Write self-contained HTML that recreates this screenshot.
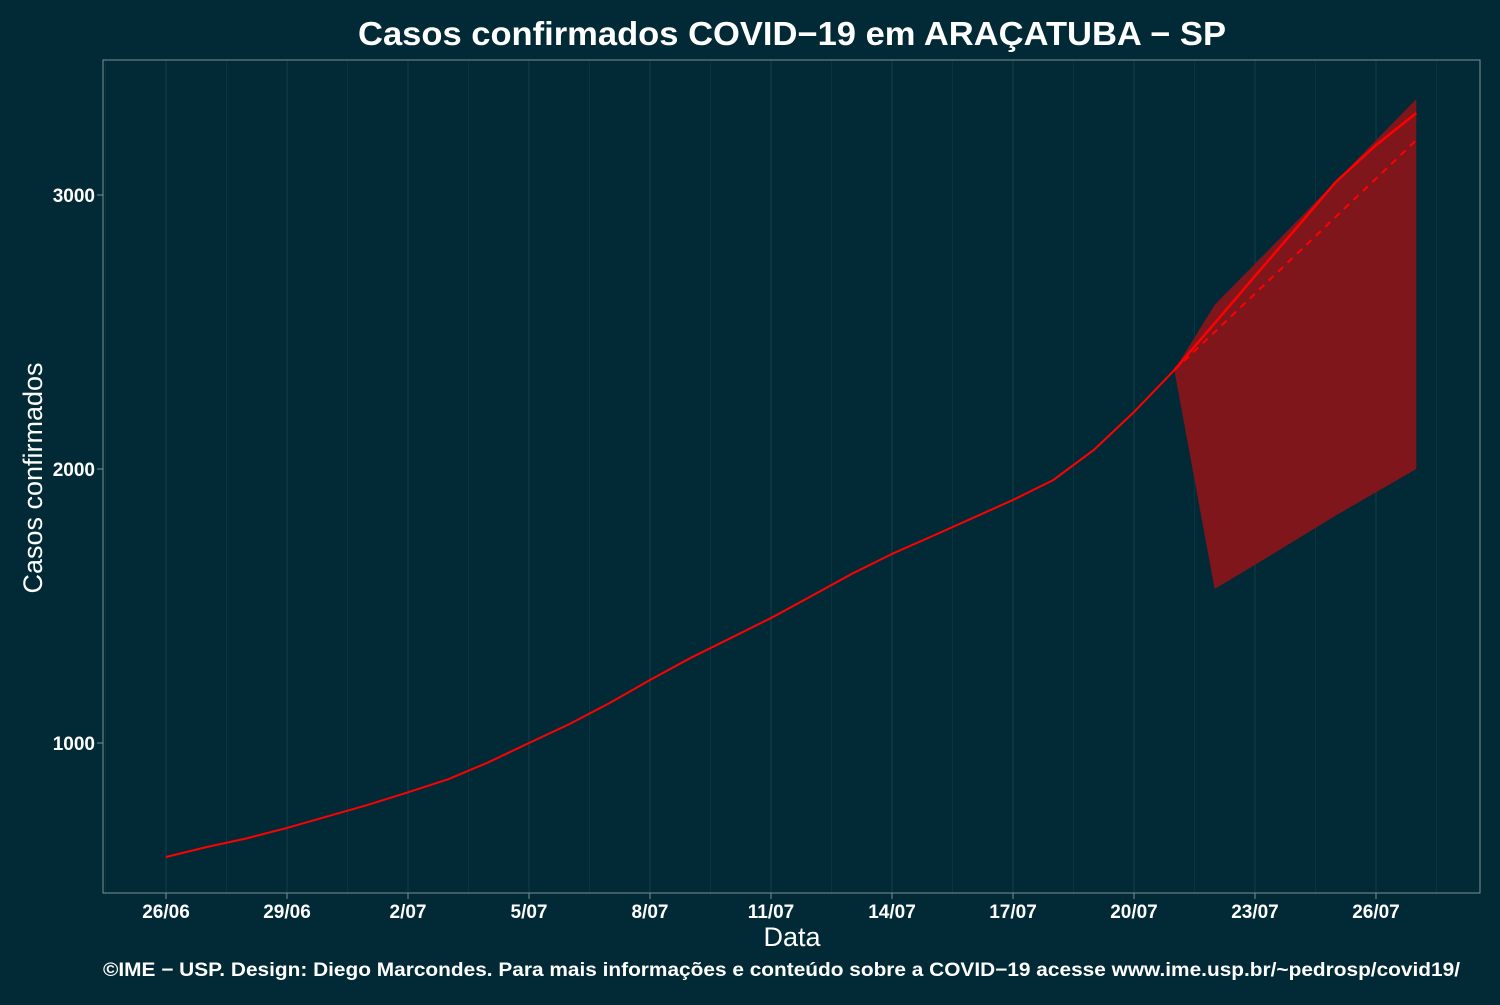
<!DOCTYPE html>
<html><head><meta charset="utf-8"><style>
body{margin:0;background:#012a36;}
svg text{font-family:"Liberation Sans",sans-serif;fill:#fff;}
</style></head><body>
<svg id="chart" width="1500" height="1000">
<rect width="1500" height="1000" fill="#012a36"/>
<text x="358" y="45" font-size="33" font-weight="bold" textLength="868" lengthAdjust="spacingAndGlyphs">Casos confirmados COVID−19 em ARAÇATUBA − SP</text>
<g id="grid"></g>
<g id="marks"></g>
<rect x="103" y="60" width="1377" height="833" fill="none" stroke="#7f8f93" stroke-width="1"/>
<g id="axes"></g>
<text x="792" y="946" font-size="27" text-anchor="middle">Data</text>
<text transform="translate(42,478) rotate(-90)" font-size="27" text-anchor="middle">Casos confirmados</text>
<text x="103" y="976" font-size="19" font-weight="bold" textLength="1357" lengthAdjust="spacingAndGlyphs">©IME − USP. Design: Diego Marcondes. Para mais informações e conteúdo sobre a COVID−19 acesse www.ime.usp.br/~pedrosp/covid19/</text>
</svg>
<script>
const observed = [584,620,652,690,732,774,820,868,930,1000,1069,1146,1230,1310,1383,1456,1536,1617,1690,1755,1821,1887,1960,2069,2208,2361];
const forecastDays = [25,26,27,28,29,30,31];
const forecastMain = [2361,2532,2704,2875,3047,3182,3299];
const forecastDashed = [2361,2500,2640,2780,2920,3060,3200];
const bandUpper = [2361,2599,2749,2899,3049,3200,3350];
const bandLower = [2361,1562,1650,1740,1830,1915,2000];
const xTickDays = [0,3,6,9,12,15,18,21,24,27,30];
const xTickLabels = ["26/06","29/06","2/07","5/07","8/07","11/07","14/07","17/07","20/07","23/07","26/07"];
const yTicks = [1000,2000,3000];

const NS="http://www.w3.org/2000/svg";
const x=d=>166+d*40.333;
const y=v=>743-(v-1000)*0.274;
function mk(tag,attrs,parent){const e=document.createElementNS(NS,tag);for(const k in attrs)e.setAttribute(k,attrs[k]);document.getElementById(parent).appendChild(e);return e;}

for(let d=-1.5;d<=33;d+=1.5){const px=x(d);if(px<104||px>1479)continue;
 const g=mk('line',{x1:px,x2:px,y1:60,y2:893,stroke:Number.isInteger(d)?'#143e49':'#0c3440','stroke-width':1},'grid');
 
 }

let pts=[];forecastDays.forEach((d,i)=>pts.push(x(d)+','+y(bandUpper[i])));
for(let i=forecastDays.length-1;i>=0;i--)pts.push(x(forecastDays[i])+','+y(bandLower[i]));
const band=mk('polygon',{points:pts.join(' '),fill:'#7f161c'},'marks');



const obs=mk('polyline',{points:observed.map((v,i)=>x(i)+','+y(v)).join(' '),fill:'none',stroke:'#ff0000','stroke-width':2},'marks');


const fm=mk('polyline',{points:forecastDays.map((d,i)=>x(d)+','+y(forecastMain[i])).join(' '),fill:'none',stroke:'#ff0000','stroke-width':2.5},'marks');


const fd=mk('polyline',{points:forecastDays.map((d,i)=>x(d)+','+y(forecastDashed[i])).join(' '),fill:'none',stroke:'#ff0000','stroke-width':2,'stroke-dasharray':'7,6'},'marks');



xTickDays.forEach((d,i)=>{
 const t=mk('line',{x1:x(d),x2:x(d),y1:893,y2:899,stroke:'#7f8f93'},'axes');
 
 
 const l=mk('text',{x:x(d),y:918,'font-size':19,'font-weight':'bold','text-anchor':'middle'},'axes');l.textContent=xTickLabels[i];
 
 });
yTicks.forEach(v=>{
 const t=mk('line',{x1:97,x2:103,y1:y(v),y2:y(v),stroke:'#7f8f93'},'axes');
 
 
 const l=mk('text',{x:95,y:y(v)+7,'font-size':19,'font-weight':'bold','text-anchor':'end'},'axes');l.textContent=v;
 
 });
</script>
</body></html>
